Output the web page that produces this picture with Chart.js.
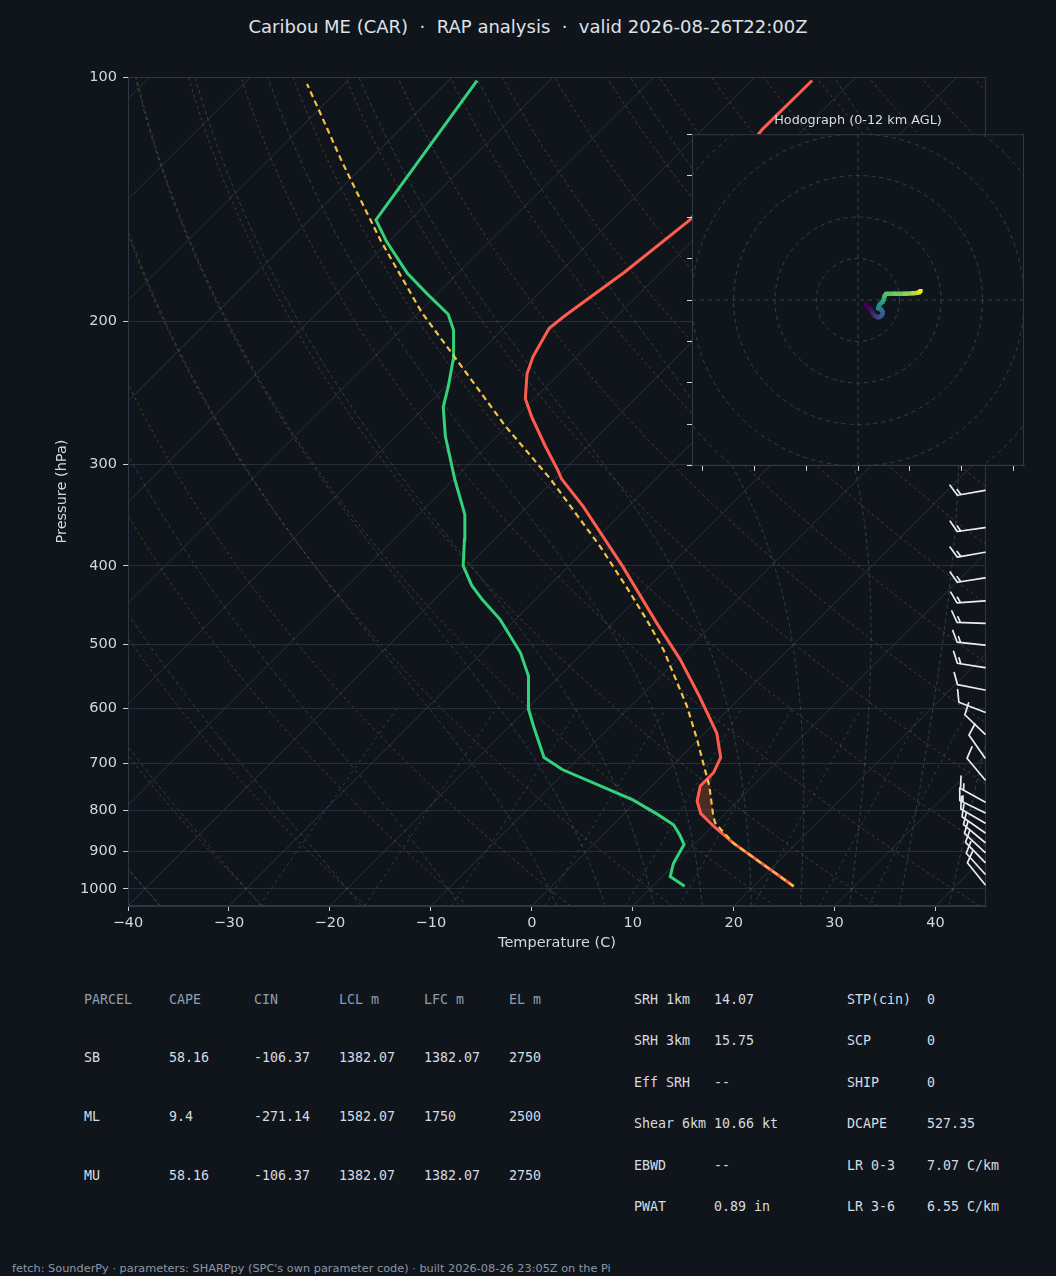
<!DOCTYPE html>
<html>
<head>
<meta charset="utf-8">
<script src="https://cdn.jsdelivr.net/npm/chart.js@4.4.1/dist/chart.umd.min.js"></script>
<style>
  body { margin: 0; background: #10151c; width: 1056px; height: 1276px; position: relative; overflow: hidden;
         font-family: "DejaVu Sans", sans-serif; color: #dde2e8; }
  #title { position: absolute; left: 0; top: 16px; width: 1056px; text-align: center; font-size: 18px;
           line-height: 22px; white-space: pre; }
  #main { position: absolute; left: 0; top: 0; }
  #hodoTitle { position: absolute; left: 692px; width: 332px; top: 112px; text-align: center;
               font-size: 12.8px; line-height: 16px; color: #d8dde3; }
  #hodo { position: absolute; left: 672px; top: 124px; }
  .cell { position: absolute; font-family: "DejaVu Sans Mono", monospace; font-size: 13.3px;
          line-height: 16px; white-space: pre; color: #d6dbe1; }
  .hdr { color: #8e9db0; }
  #footer { position: absolute; left: 12px; top: 1262px; font-size: 11.3px; line-height: 14px;
            color: #8c97a6; white-space: pre; }
</style>
</head>
<body>
<div id="title">Caribou ME (CAR)  ·  RAP analysis  ·  valid 2026-08-26T22:00Z</div>
<canvas id="main" width="1056" height="960"></canvas>
<div id="hodoTitle">Hodograph (0-12 km AGL)</div>
<canvas id="hodo" width="362" height="352"></canvas>
<div id="stats"></div>
<div id="footer">fetch: SounderPy · parameters: SHARPpy (SPC's own parameter code) · built 2026-08-26 23:05Z on the Pi</div>

<script>
// ---- sounding (pressure hPa, temperature C) ----
const tempP = [993, 878, 837, 808, 780, 747, 719, 689, 643, 580, 522, 471, 401, 338, 313, 305, 285, 262, 249, 232, 221, 204, 197, 174, 150, 116, 101];
const tempT = [24.0, 13.7, 10.1, 7.6, 6.0, 4.8, 4.8, 4.0, 1.2, -4.1, -9.7, -15.6, -24.6, -34.5, -39.3, -40.6, -44.2, -48.5, -50.9, -53.2, -54.3, -55.5, -55.2, -53.6, -52.3, -54.1, -54.0];

const dewP = [993, 966, 930, 882, 858, 834, 808, 777, 747, 713, 689, 631, 601, 547, 512, 466, 440, 423, 400, 371, 346, 313, 277, 255, 240, 223, 205, 196, 185, 174.5, 159.5, 150, 101];
const dewT = [13.2, 10.8, 9.8, 9.0, 7.6, 6.0, 3.2, -0.5, -5.1, -10.5, -13.5, -17.6, -19.8, -23.1, -26.2, -31.5, -35.3, -37.7, -40.5, -43.0, -45.4, -49.9, -55.1, -58.2, -59.8, -61.9, -64.8, -66.9, -71.0, -75.0, -80.2, -83.4, -87.2];

const parcelP = [993, 878, 829, 808, 747, 706, 655, 596, 553, 508, 466, 425, 379, 345, 313, 269, 221, 195, 159, 142, 126.5, 111, 102];
const parcelT = [24.0, 13.7, 9.9, 8.8, 5.7, 3.2, -0.1, -4.4, -8.1, -12.3, -17.0, -22.2, -28.8, -34.5, -40.4, -50.2, -62.1, -69.7, -80.9, -86.8, -92.8, -99.4, -103.7];

// positive area between parcel and environment
const CAPE_BOT_P = 830;
const CAPE_TOP_P = 715;

// wind barbs (kt, direction from)
const barbP   = [323, 359, 385, 414, 442, 471, 501, 534, 569, 606, 645, 690, 734, 782, 806, 830, 853, 877, 902, 928, 959, 988];
const barbDir = [260, 262, 260, 261, 266, 272, 276, 279, 281, 291, 314, 325, 320, 299, 296, 300, 305, 310, 313, 316, 318, 321];
const barbSpd = [15, 15, 15, 15, 15, 15, 15, 15, 10, 10, 10, 10, 10, 15, 15, 10, 10, 10, 10, 10, 10, 10];

// hodograph 0-12 km (u, v in kt)
const hodoU = [1.9, 3.0, 3.6, 4.2, 5.0, 5.7, 6.0, 5.6, 4.8, 5.2, 5.9, 6.2, 6.4, 6.8, 8.8, 11.3, 13.3, 14.7, 15.1];
const hodoV = [-1.2, -2.3, -3.2, -3.9, -4.2, -3.8, -3.0, -2.3, -2.0, -1.1, -0.5, 0.2, 1.0, 1.5, 1.5, 1.5, 1.6, 1.8, 2.2];

// axes / reference lines
const pressureTicks = [100, 200, 300, 400, 500, 600, 700, 800, 900, 1000];
const tempTicks = [-40, -30, -20, -10, 0, 10, 20, 30, 40];
const isothermT = [-160, -150, -140, -130, -120, -110, -100, -90, -80, -70, -60, -50, -40, -30, -20, -10, 0, 10, 20, 30, 40, 50];
const dryT0 = [-40, -30, -20, -10, 0, 10, 20, 30, 40, 50, 60, 70, 80, 90, 100, 110, 120, 130, 140, 150, 160, 170, 180, 190, 200];
const moistT0 = [-40, -30, -20, -10, 0, 5, 10, 15, 20, 25, 30, 35, 40, 45];
const mixingW = [0.4, 1, 2, 4, 7, 10, 16, 24, 32];   // g/kg
const hodoRings = [10, 20, 30, 40, 50];
const hodoYTicks = [-40, -30, -20, -10, 0, 10, 20, 30, 40];
const hodoXTicks = [-37.5, -25, -12.5, 0, 12.5, 25, 37.5];

const statHeader = ["PARCEL", "CAPE", "CIN", "LCL m", "LFC m", "EL m"];
const statRows = [
  ["SB", "58.16", "-106.37", "1382.07", "1382.07", "2750"],
  ["ML", "9.4", "-271.14", "1582.07", "1750", "2500"],
  ["MU", "58.16", "-106.37", "1382.07", "1382.07", "2750"],
];
const kinLabels = ["SRH 1km", "SRH 3km", "Eff SRH", "Shear 6km", "EBWD", "PWAT"];
const kinValues = ["14.07", "15.75", "--", "10.66 kt", "--", "0.89 in"];
const idxLabels = ["STP(cin)", "SCP", "SHIP", "DCAPE", "LR 0-3", "LR 3-6"];
const idxValues = ["0", "0", "0", "527.35", "7.07 C/km", "6.55 C/km"];

// ---- skew-T helpers ----
const P_BOTTOM = 1050, P_TOP = 100;
const SKEW = 80.42; // C shift per decade of pressure, gives 45 deg isotherms on this layout
const skewX = (t, p) => t + SKEW * Math.log10(P_BOTTOM / p);
const toPoints = (ps, ts) => ps.map((p, i) => ({ x: skewX(ts[i], p), y: p }));
const minus = v => (v < 0 ? "\u2212" + Math.abs(v) : String(v));

const inCape = p => p <= CAPE_BOT_P && p >= CAPE_TOP_P;
const capeArea = [
  ...parcelP.map((p, i) => [p, parcelT[i]]).filter(([p]) => inCape(p)),
  ...tempP.map((p, i) => [p, tempT[i]]).filter(([p]) => inCape(p)).reverse(),
].map(([p, t]) => ({ x: skewX(t, p), y: p }));

const logLevels = (from, to, n) => Array.from({ length: n + 1 }, (_, i) => from * Math.pow(to / from, i / n));

function moistAdiabat(t0) {
  const Rd = 287.04, Cp = 1005.7, Lv = 2.501e6, eps = 0.622;
  const es = T => 6.112 * Math.exp(17.67 * (T - 273.15) / (T - 29.65));
  const dTdp = (T, p) => {
    const e = es(T), rs = eps * e / (p - e);
    return (Rd * T + Lv * rs) / (Cp + Lv * Lv * rs * eps / (Rd * T * T)) / p;
  };
  const walk = (dp, pEnd) => {
    const out = [];
    let T = t0 + 273.15;
    for (let p = 1000; dp < 0 ? p >= pEnd : p <= pEnd; p += dp) {
      out.push([p, T - 273.15]);
      const k1 = dTdp(T, p);
      const k2 = dTdp(T + k1 * dp / 2, p + dp / 2);
      T += k2 * dp;
    }
    return out;
  };
  return walk(10, P_BOTTOM).reverse().concat(walk(-10, P_TOP).slice(1));
}

const skewBackground = {
  id: "skewBackground",
  beforeDatasetsDraw(chart) {
    const { ctx, chartArea: a, scales: { x, y } } = chart;
    const trace = (pts, color, dash) => {
      ctx.beginPath();
      pts.forEach(([p, t], i) => {
        const px = x.getPixelForValue(skewX(t, p)), py = y.getPixelForValue(p);
        i ? ctx.lineTo(px, py) : ctx.moveTo(px, py);
      });
      ctx.strokeStyle = color;
      ctx.setLineDash(dash);
      ctx.stroke();
    };
    ctx.save();
    ctx.beginPath();
    ctx.rect(a.left, a.top, a.right - a.left, a.bottom - a.top);
    ctx.clip();
    ctx.lineWidth = 1;
    isothermT.forEach(t => trace([[P_BOTTOM, t], [P_TOP, t]], "#29333f", []));
    const levels = logLevels(P_BOTTOM, P_TOP, 60);
    dryT0.forEach(t0 => trace(levels.map(p => [p, (t0 + 273.15) * Math.pow(p / 1000, 0.2857) - 273.15]),
      "rgba(170,120,70,0.38)", [3, 3]));
    moistT0.forEach(t0 => trace(moistAdiabat(t0), "rgba(105,140,170,0.34)", [4, 3]));
    const mixLevels = logLevels(P_BOTTOM, 600, 20);
    mixingW.forEach(w => trace(mixLevels.map(p => {
      const e = p * (w / 1000) / (0.622 + w / 1000), l = Math.log(e / 6.112);
      return [p, 243.5 * l / (17.67 - l)];
    }), "rgba(105,145,170,0.34)", [3, 4]));
    ctx.restore();
  },
  afterDatasetsDraw(chart) {
    const { ctx, chartArea: a, scales: { y } } = chart;
    ctx.save();
    ctx.strokeStyle = "#2c3746";
    ctx.lineWidth = 1;
    ctx.strokeRect(a.left + 0.5, a.top + 0.5, a.right - a.left - 1, a.bottom - a.top - 1);
    // wind barbs along the right edge
    ctx.strokeStyle = "#e9edf2";
    ctx.fillStyle = "#e9edf2";
    ctx.lineWidth = 1.7;
    ctx.lineCap = "round";
    barbP.forEach((p, i) => drawBarb(ctx, a.right - 1, y.getPixelForValue(p), barbDir[i], barbSpd[i]));
    ctx.restore();
  }
};

function drawBarb(ctx, x0, y0, dir, spd) {
  const L = 28, H = 0.4 * L, gap = 0.125 * L;
  const r = dir * Math.PI / 180;
  const sx = Math.sin(r), sy = -Math.cos(r);   // toward where the wind comes from
  const nx = -sy, ny = sx;                     // barb side
  const at = d => [x0 + sx * d, y0 + sy * d];
  const speed = Math.round(spd / 5) * 5;
  let flags = Math.floor(speed / 50), rest = speed - flags * 50;
  let full = Math.floor(rest / 10), half = rest - full * 10 >= 5;
  ctx.beginPath();
  ctx.moveTo(x0, y0);
  ctx.lineTo(...at(L));
  let d = L;
  for (let k = 0; k < flags; k++) {
    const [ax, ay] = at(d), [bx, by] = at(d - 0.25 * L);
    ctx.moveTo(ax, ay);
    ctx.lineTo(bx + nx * H, by + ny * H);
    ctx.lineTo(bx, by);
    d -= 0.25 * L + gap;
  }
  for (let k = 0; k < full; k++) {
    const [ax, ay] = at(d);
    ctx.moveTo(ax, ay);
    ctx.lineTo(ax + nx * H + sx * H / 2, ay + ny * H + sy * H / 2);
    d -= gap;
  }
  if (half) {
    if (flags === 0 && full === 0) d -= gap;
    const [ax, ay] = at(d);
    ctx.moveTo(ax, ay);
    ctx.lineTo(ax + nx * H / 2 + sx * H / 4, ay + ny * H / 2 + sy * H / 4);
  }
  ctx.stroke();
}

const font = { family: "DejaVu Sans", size: 14.5 };
const textColor = "#d3d8df";

new Chart(document.getElementById("main"), {
  type: "line",
  data: {
    datasets: [
      { data: capeArea, fill: "shape", backgroundColor: "rgba(112,56,40,0.62)", borderWidth: 0, pointRadius: 0, order: 4 },
      { data: toPoints(dewP, dewT), borderColor: "#33d17a", borderWidth: 3, pointRadius: 0, fill: false, order: 3 },
      { data: toPoints(tempP, tempT), borderColor: "#ff5c4d", borderWidth: 3, pointRadius: 0, fill: false, order: 2 },
      { data: toPoints(parcelP, parcelT), borderColor: "#f5c242", borderWidth: 2.2, borderDash: [6, 4],
        pointRadius: 0, fill: false, order: 1 },
    ]
  },
  options: {
    responsive: false,
    animation: false,
    layout: { padding: { top: 77, right: 70, left: 0, bottom: 0 } },
    plugins: { legend: { display: false }, tooltip: { enabled: false } },
    scales: {
      x: {
        type: "linear", min: -40, max: 45,
        afterBuildTicks: s => { s.ticks = tempTicks.map(v => ({ value: v })); },
        afterFit: s => { s.height = 54; },
        grid: { drawOnChartArea: false, tickLength: 5, tickColor: "#c8cfd8" },
        border: { color: "#2c3746" },
        ticks: { color: textColor, font, padding: 4, maxRotation: 0, callback: v => minus(v) },
        title: { display: true, text: "Temperature (C)", color: textColor, font, padding: { top: 0, bottom: 8 } }
      },
      y: {
        type: "logarithmic", min: P_TOP, max: P_BOTTOM, reverse: true,
        afterBuildTicks: s => { s.ticks = pressureTicks.map(v => ({ value: v })); },
        afterFit: s => { s.width = 128; },
        grid: { color: "#252f3b", tickLength: 5, tickColor: "#c8cfd8" },
        border: { color: "#2c3746" },
        ticks: { color: textColor, font, padding: 6, callback: v => String(v) },
        title: { display: true, text: "Pressure (hPa)", color: textColor, font, padding: { top: 54, bottom: 0 } }
      }
    }
  },
  plugins: [skewBackground]
});

// ---- hodograph ----
const viridis = ["#440154", "#3b528b", "#21918c", "#5ec962", "#fde725"];
function viridisAt(f) {
  const pos = Math.min(0.9999, Math.max(0, f)) * (viridis.length - 1);
  const i = Math.floor(pos), t = pos - i;
  const c0 = viridis[i].match(/\w\w/g).map(h => parseInt(h, 16));
  const c1 = viridis[i + 1].match(/\w\w/g).map(h => parseInt(h, 16));
  return `rgb(${c0.map((c, k) => Math.round(c + (c1[k] - c) * t)).join(",")})`;
}
const hodoColors = hodoU.map((_, i) => viridisAt(i / (hodoU.length - 1)));

const hodoFrame = {
  id: "hodoFrame",
  beforeDraw(chart) {
    const { ctx, chartArea: a } = chart;
    ctx.save();
    ctx.fillStyle = "#10151c";
    ctx.fillRect(a.left, a.top, a.right - a.left, a.bottom - a.top);
    ctx.restore();
  },
  beforeDatasetsDraw(chart) {
    const { ctx, chartArea: a, scales: { x, y } } = chart;
    const cx = x.getPixelForValue(0), cy = y.getPixelForValue(0);
    ctx.save();
    ctx.beginPath();
    ctx.rect(a.left, a.top, a.right - a.left, a.bottom - a.top);
    ctx.clip();
    ctx.strokeStyle = "#354150";
    ctx.lineWidth = 1;
    ctx.setLineDash([4, 4]);
    hodoRings.forEach(r => {
      ctx.beginPath();
      ctx.arc(cx, cy, x.getPixelForValue(r) - cx, 0, Math.PI * 2);
      ctx.stroke();
    });
    ctx.beginPath();
    ctx.moveTo(a.left, cy); ctx.lineTo(a.right, cy);
    ctx.moveTo(cx, a.top); ctx.lineTo(cx, a.bottom);
    ctx.stroke();
    ctx.restore();
  },
  afterDraw(chart) {
    const { ctx, chartArea: a } = chart;
    ctx.save();
    ctx.strokeStyle = "#2f3a48";
    ctx.lineWidth = 1;
    ctx.strokeRect(a.left + 0.5, a.top + 0.5, a.right - a.left - 1, a.bottom - a.top - 1);
    ctx.restore();
  }
};

new Chart(document.getElementById("hodo"), {
  type: "line",
  data: {
    datasets: [{
      data: hodoU.map((u, i) => ({ x: u, y: hodoV[i] })),
      borderWidth: 4.5,
      segment: { borderColor: c => hodoColors[c.p0DataIndex] },
      pointStyle: "rect", pointRadius: 2.8, pointBorderWidth: 0,
      pointBackgroundColor: hodoColors, fill: false
    }]
  },
  options: {
    responsive: false,
    animation: false,
    layout: { padding: { top: 10, right: 10, left: 0, bottom: 0 } },
    plugins: { legend: { display: false }, tooltip: { enabled: false } },
    scales: {
      x: {
        type: "linear", min: -40, max: 40,
        afterBuildTicks: s => { s.ticks = hodoXTicks.map(v => ({ value: v })); },
        afterFit: s => { s.height = 10; },
        grid: { drawOnChartArea: false, tickLength: 5, tickColor: "#d0d6dd" },
        border: { color: "#2f3a48" },
        ticks: { callback: () => "" }
      },
      y: {
        type: "linear", min: -40, max: 40,
        afterBuildTicks: s => { s.ticks = hodoYTicks.map(v => ({ value: v })); },
        afterFit: s => { s.width = 20; },
        grid: { drawOnChartArea: false, tickLength: 5, tickColor: "#d0d6dd" },
        border: { color: "#2f3a48" },
        ticks: { callback: () => "" }
      }
    }
  },
  plugins: [hodoFrame]
});

// ---- parameter tables ----
const stats = document.getElementById("stats");
function cell(text, x, yMid, cls) {
  const d = document.createElement("div");
  d.className = "cell" + (cls ? " " + cls : "");
  d.textContent = text;
  d.style.left = x + "px";
  d.style.top = (yMid - 8) + "px";
  stats.appendChild(d);
}
const colX = [84, 169, 254, 339, 424, 509];
statHeader.forEach((h, i) => cell(h, colX[i], 1000, "hdr"));
statRows.forEach((row, r) => row.forEach((v, i) => cell(v, colX[i], [1058, 1117, 1176][r])));
const rowY = [1000, 1041, 1083, 1124, 1166, 1207];
kinLabels.forEach((l, i) => { cell(l, 634, rowY[i]); cell(kinValues[i], 714, rowY[i]); });
idxLabels.forEach((l, i) => { cell(l, 847, rowY[i]); cell(idxValues[i], 927, rowY[i]); });
</script>
</body>
</html>
